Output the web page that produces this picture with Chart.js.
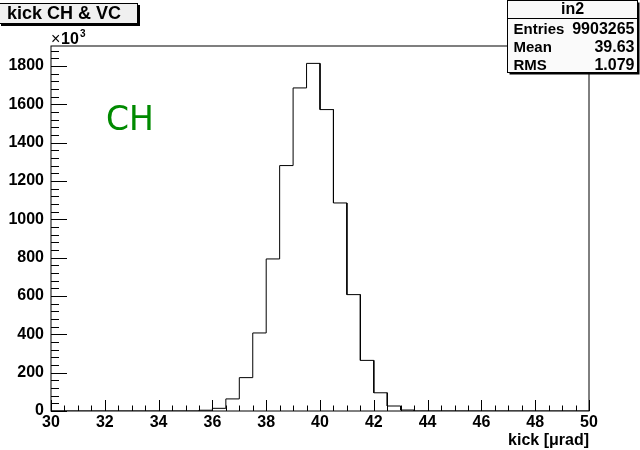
<!DOCTYPE html>
<html>
<head>
<meta charset="utf-8">
<script src="https://cdn.jsdelivr.net/npm/chart.js@4.4.1/dist/chart.umd.min.js"></script>
<style>
  body { margin: 0; background: #fff; }
</style>
</head>
<body>
<canvas id="kick" width="640" height="450"></canvas>
<script>
// bin low edges (urad) and contents in units of 10^3
const binLow = [35.5, 36, 36.5, 37, 37.5, 38, 38.5, 39, 39.5, 40, 40.5, 41, 41.5, 42, 42.5, 43];
const binWidth = 0.5;
const counts = [4, 14, 63, 174, 407, 793, 1280, 1685, 1813, 1572, 1085, 607, 264, 95, 26, 5];

const xRange = [30, 50];
const xTicks = [30, 32, 34, 36, 38, 40, 42, 44, 46, 48, 50];
const yTicks = [0, 200, 400, 600, 800, 1000, 1200, 1400, 1600, 1800];

const statsName = 'in2';
const statsRows = [['Entries', '9903265'], ['Mean', '39.63'], ['RMS', '1.079']];

// outline of the histogram: baseline, then both edges of every bin
const outline = [{ x: xRange[0], y: 0 }, { x: binLow[0], y: 0 }];
binLow.forEach((lo, i) => {
  outline.push({ x: lo, y: counts[i] });
  outline.push({ x: lo + binWidth, y: counts[i] });
});
outline.push({ x: binLow[binLow.length - 1] + binWidth, y: 0 });
outline.push({ x: xRange[1], y: 0 });

const FONT = '"Liberation Sans", Helvetica, Arial, sans-serif';

const rootStyle = {
  id: 'rootStyle',
  afterDraw(chart) {
    const ctx = chart.ctx;
    const a = chart.chartArea;
    const xs = chart.scales.x, ys = chart.scales.y;
    ctx.save();

    // frame
    ctx.strokeStyle = '#000';
    ctx.lineWidth = 1;
    ctx.strokeRect(a.left, a.top, a.right - a.left, a.bottom - a.top);

    // ticks drawn inside the frame
    ctx.beginPath();
    for (let v = xRange[0]; v <= xRange[1] + 1e-9; v += 0.5) {
      const px = Math.round(xs.getPixelForValue(v)) + 0.5;
      const major = Math.abs(v / 2 - Math.round(v / 2)) < 1e-9;
      ctx.moveTo(px, a.bottom);
      ctx.lineTo(px, a.bottom - (major ? 11 : 5.5));
    }
    for (let v = 0; v <= ys.max; v += 40) {
      const py = Math.round(ys.getPixelForValue(v)) + 0.5;
      const major = v % 200 === 0;
      ctx.moveTo(a.left, py);
      ctx.lineTo(a.left + (major ? 16 : 8), py);
    }
    ctx.stroke();

    // exponent of the y axis
    ctx.fillStyle = '#000';
    ctx.textBaseline = 'alphabetic';
    ctx.textAlign = 'left';
    ctx.font = '16px ' + FONT;
    ctx.fillText('\u00d7', 51, 44);
    ctx.font = 'bold 16px ' + FONT;
    ctx.fillText('10', 61, 44);
    ctx.font = 'bold 10px ' + FONT;
    ctx.fillText('3', 80, 37);

    // CH label
    ctx.fillStyle = '#008a00';
    ctx.font = '33px "DejaVu Sans", sans-serif';
    ctx.fillText('CH', 106, 130);

    // title box
    ctx.fillStyle = '#000';
    ctx.fillRect(1, 5, 139, 21);
    ctx.fillStyle = '#f0f0f0';
    ctx.fillRect(-2, 3, 139, 20);
    ctx.strokeStyle = '#000';
    ctx.strokeRect(-1.5, 3.5, 139, 20);
    ctx.fillStyle = '#000';
    ctx.font = 'bold 18px ' + FONT;
    ctx.textBaseline = 'middle';
    ctx.fillText('kick CH & VC', 7, 14);

    // statistics box
    const bx = 507.5, by = 0.5, bw = 130, bh = 72;
    ctx.fillStyle = '#000';
    ctx.fillRect(bx + 2, by + 2, bw, bh);
    ctx.fillStyle = '#fafafa';
    ctx.fillRect(bx, by, bw, bh);
    ctx.strokeRect(bx, by, bw, bh);
    ctx.beginPath();
    ctx.moveTo(bx, 18.5);
    ctx.lineTo(bx + bw, 18.5);
    ctx.stroke();
    ctx.fillStyle = '#000';
    ctx.font = 'bold 16px ' + FONT;
    ctx.textAlign = 'center';
    ctx.fillText(statsName, bx + bw / 2, 10);
    statsRows.forEach(([k, v], i) => {
      const ty = 30 + i * 17.8;
      ctx.textAlign = 'left';
      ctx.font = 'bold 15px ' + FONT;
      ctx.fillText(k, bx + 6, ty);
      ctx.textAlign = 'right';
      ctx.font = 'bold 16px ' + FONT;
      ctx.fillText(v, bx + bw - 3, ty);
    });

    ctx.restore();
  }
};

new Chart(document.getElementById('kick'), {
  type: 'line',
  data: {
    datasets: [{
      data: outline,
      borderColor: '#000',
      borderWidth: 1,
      pointRadius: 0,
      fill: false,
      tension: 0
    }]
  },
  options: {
    responsive: false,
    animation: false,
    devicePixelRatio: 1,
    layout: { padding: { top: 46, right: 51, left: 0, bottom: 0 } },
    plugins: { legend: { display: false }, tooltip: { enabled: false } },
    scales: {
      x: {
        type: 'linear',
        min: xRange[0],
        max: xRange[1],
        afterFit: s => { s.height = 39; },
        afterBuildTicks: s => { s.ticks = xTicks.map(v => ({ value: v })); },
        grid: { display: false, drawTicks: false },
        border: { display: false },
        ticks: {
          color: '#000',
          padding: 2,
          maxRotation: 0,
          callback: v => String(v),
          font: { family: FONT, size: 16, weight: 'bold' }
        },
        title: {
          display: true,
          text: 'kick [\u03bcrad]',
          align: 'end',
          color: '#000',
          padding: { top: 1, bottom: 0 },
          font: { family: FONT, size: 16, weight: 'bold' }
        }
      },
      y: {
        type: 'linear',
        min: 0,
        max: Math.max(...counts) * 1.05,
        afterFit: s => { s.width = 51; },
        afterBuildTicks: s => { s.ticks = yTicks.map(v => ({ value: v })); },
        grid: { display: false, drawTicks: false },
        border: { display: false },
        ticks: {
          color: '#000',
          padding: 7,
          callback: v => String(v),
          font: { family: FONT, size: 16, weight: 'bold' }
        }
      }
    }
  },
  plugins: [rootStyle]
});
</script>
</body>
</html>
